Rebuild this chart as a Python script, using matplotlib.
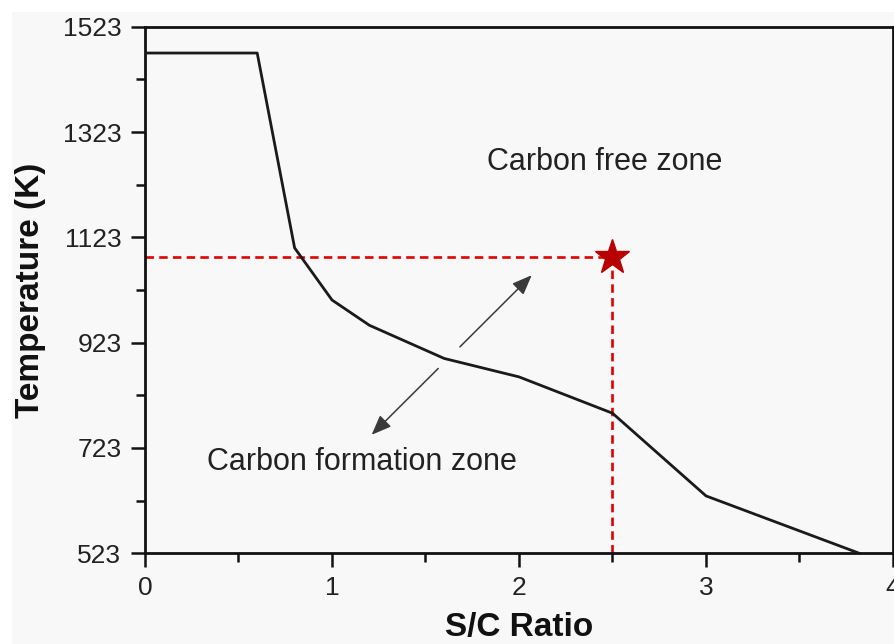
import matplotlib
matplotlib.use("Agg")
import matplotlib.pyplot as plt
from matplotlib.patches import Rectangle

plt.rcParams['font.family'] = ['Liberation Sans', 'DejaVu Sans']

# carbon formation boundary: temperature (K) vs steam/carbon ratio
sc_ratio = [0.0, 0.6, 0.8, 1.0, 1.2, 1.6, 2.0, 2.5, 3.0, 3.82]
temp_k = [1473, 1473, 1103, 1004, 956, 893, 858, 789, 632, 523]

# selected operating point
op_sc = 2.5
op_temp = 1086

x_ticks = [0, 1, 2, 3, 4]
y_ticks = [523, 723, 923, 1123, 1323, 1523]

fig = plt.figure(figsize=(8.95, 6.44), dpi=100)
fig.patch.set_facecolor('white')
fig.add_artist(Rectangle((12 / 895, 0), 1, 1 - 12 / 644, transform=fig.transFigure,
                         facecolor='#f8f8f8', edgecolor='none', zorder=-10))

ax = fig.add_axes([145 / 895, 1 - 553.3 / 644, 748 / 895, 526.6 / 644])
ax.set_facecolor('#f8f8f8')

ax.plot(sc_ratio, temp_k, color='#1a1a1a', lw=2.0, zorder=3)

# dashed guides to the operating point
dash = (0, (3.2, 2.0))
ax.plot([0, op_sc], [op_temp, op_temp], color='#e00000', lw=1.9, linestyle=dash, zorder=2)
ax.plot([op_sc, op_sc], [523, op_temp], color='#e00000', lw=1.9, linestyle=dash, zorder=2)
ax.plot([op_sc], [op_temp], marker='*', ms=26, color='#b80000', mec='#b80000', zorder=4,
        clip_on=False)

# arrows pointing into each zone
arrow_kw = dict(arrowstyle='-|>,head_length=0.55,head_width=0.22', color='#3a3a3a',
                lw=1.1, mutation_scale=22, shrinkA=0, shrinkB=0)
ax.annotate('', xy=(2.068, 1051), xytext=(1.684, 915), arrowprops=arrow_kw)
ax.annotate('', xy=(1.212, 748), xytext=(1.568, 874), arrowprops=arrow_kw)

ax.text(2.46, 1266, 'Carbon free zone', fontsize=22, color='#222222',
        ha='center', va='center')
ax.text(1.16, 696, 'Carbon formation zone', fontsize=22, color='#222222',
        ha='center', va='center')

ax.set_xlim(0, 4)
ax.set_ylim(523, 1523)
ax.set_xticks(x_ticks)
ax.set_yticks(y_ticks)
ax.set_xticks([0.5, 1.5, 2.5, 3.5], minor=True)
ax.set_yticks([623, 823, 1023, 1223, 1423], minor=True)

for s in ax.spines.values():
    s.set_linewidth(2.0)
    s.set_color('#111111')

ax.tick_params(which='major', direction='out', length=10, width=1.8,
               labelsize=19, labelcolor='#222222', color='#111111')
ax.tick_params(which='minor', direction='out', length=6.5, width=1.8, color='#111111')
ax.tick_params(axis='y', which='major', pad=7)
ax.tick_params(axis='x', which='major', pad=6)

ax.set_xlabel('S/C Ratio', fontsize=24, fontweight='bold', color='#111111', labelpad=9)
ax.set_ylabel('Temperature (K)', fontsize=24, fontweight='bold', color='#111111', labelpad=12)

fig.savefig('out.png', dpi=100, facecolor=fig.get_facecolor())
